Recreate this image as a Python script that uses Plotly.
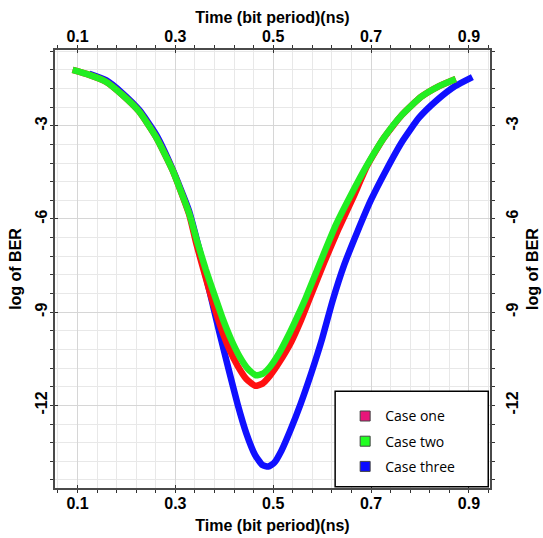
import plotly.graph_objects as go

# Bit-error-rate bathtub curves (log10 BER vs. sampling time in the bit period)
case_one_t = [0.090, 0.124, 0.158, 0.192, 0.226, 0.260, 0.294, 0.328, 0.343, 0.359,
              0.375, 0.392, 0.409, 0.427, 0.445, 0.463, 0.478, 0.493, 0.512, 0.537,
              0.557, 0.573, 0.604, 0.634, 0.663, 0.692, 0.726, 0.763, 0.802, 0.839, 0.873]
case_one_ber = [-1.20, -1.36, -1.58, -2.01, -2.54, -3.35, -4.42, -5.84, -6.80, -7.72,
                -8.60, -9.45, -10.15, -10.72, -11.15, -11.37, -11.30, -11.05, -10.62, -9.95,
                -9.25, -8.62, -7.40, -6.30, -5.32, -4.29, -3.39, -2.65, -2.07, -1.72, -1.49]

case_two_t = [0.090, 0.124, 0.158, 0.192, 0.226, 0.260, 0.294, 0.328, 0.345, 0.362,
              0.380, 0.397, 0.414, 0.431, 0.448, 0.464, 0.479, 0.494, 0.512, 0.532,
              0.550, 0.566, 0.598, 0.628, 0.659, 0.692, 0.726, 0.763, 0.802, 0.839, 0.873]
case_two_ber = [-1.20, -1.36, -1.58, -2.01, -2.54, -3.35, -4.42, -5.81, -6.75, -7.62,
                -8.45, -9.22, -9.88, -10.42, -10.82, -11.03, -10.98, -10.75, -10.32, -9.72,
                -9.12, -8.56, -7.32, -6.19, -5.22, -4.26, -3.39, -2.65, -2.07, -1.72, -1.49]

case_three_t = [0.124, 0.159, 0.191, 0.226, 0.261, 0.293, 0.328, 0.350, 0.371, 0.390,
                0.409, 0.427, 0.445, 0.463, 0.478, 0.490, 0.502, 0.517, 0.535, 0.556,
                0.578, 0.600, 0.621, 0.645, 0.672, 0.700, 0.731, 0.763, 0.798, 0.835, 0.872, 0.907]
case_three_ber = [-1.33, -1.54, -1.94, -2.49, -3.29, -4.35, -5.74, -7.05, -8.40, -9.65,
                  -10.85, -11.95, -12.90, -13.60, -13.92, -13.97, -13.85, -13.45, -12.80, -11.95,
                  -10.95, -9.85, -8.65, -7.48, -6.41, -5.38, -4.42, -3.52, -2.74, -2.17, -1.72, -1.43]

series_names = ["Case one", "Case two", "Case three"]
line_colors = ["#ff1010", "#22ee22", "#1010ff"]
legend_colors = ["#e8157a", "#22ff22", "#0a0aff"]

x_ticks = [0.1, 0.3, 0.5, 0.7, 0.9]
y_ticks = [-3, -6, -9, -12]

fig = go.Figure()

# drawing order: blue underneath, then red, green on top
curves = [(case_three_t, case_three_ber, 2), (case_one_t, case_one_ber, 0),
          (case_two_t, case_two_ber, 1)]
for t, ber, i in curves:
    fig.add_trace(go.Scatter(x=t, y=ber, mode="lines",
                             line=dict(color=line_colors[i], width=6.5, shape="spline", smoothing=0.5),
                             showlegend=False, hoverinfo="skip"))

# legend entries with square swatches; the first two also bring in the top and right axes
legend_axes = [dict(xaxis="x2", yaxis="y"), dict(xaxis="x", yaxis="y2"), dict(xaxis="x", yaxis="y")]
for i, name in enumerate(series_names):
    fig.add_trace(go.Scatter(x=[None], y=[None], mode="markers", name=name,
                             legendgroup=name, hoverinfo="skip",
                             marker=dict(symbol="square", size=10, color=legend_colors[i],
                                         line=dict(color="#444", width=1)),
                             **legend_axes[i]))

tick_font = dict(family="Liberation Sans", size=16, color="black", weight="bold")
title_font = dict(family="Liberation Sans", size=16, color="black", weight="bold")

x_common = dict(range=[0.054, 0.943], tickvals=x_ticks, ticktext=[str(v) for v in x_ticks],
                zeroline=False, showline=True, linecolor="#4a4a4a", linewidth=2, automargin=False,
                ticks="inside", ticklen=3, tickcolor="#333", tickfont=tick_font)
y_common = dict(range=[-14.66, -0.56], tickvals=y_ticks, ticktext=[str(v) for v in y_ticks],
                tickangle=-90, zeroline=False, showline=True, linecolor="#4a4a4a", linewidth=2,
                automargin=False, tickcolor="#333", tickfont=tick_font)

x_grid = dict(showgrid=True, gridcolor="#d6d6d6", gridwidth=1,
              minor=dict(dtick=0.04, tick0=0.1, showgrid=True, gridcolor="#e8e8e8",
                         ticks="outside", ticklen=3, tickcolor="#333"))
y_grid = dict(showgrid=True, gridcolor="#d6d6d6", gridwidth=1,
              minor=dict(dtick=0.6, tick0=-3, showgrid=True, gridcolor="#e8e8e8",
                         ticks="outside", ticklen=3, tickcolor="#333"))
x_top_ticks = dict(showgrid=False, minor=dict(dtick=0.04, tick0=0.1, showgrid=False,
                                              ticks="outside", ticklen=3, tickcolor="#333"))
y_right_ticks = dict(showgrid=False, minor=dict(dtick=0.6, tick0=-3, showgrid=False,
                                                ticks="outside", ticklen=3, tickcolor="#333"))

fig.update_layout(
    width=543, height=538,
    margin=dict(l=55, r=53, t=50, b=50, autoexpand=False),
    paper_bgcolor="white", plot_bgcolor="white",
    xaxis=dict(**x_common, **x_grid, side="bottom",
               title=dict(text="Time (bit period)(ns)", font=title_font, standoff=9)),
    xaxis2=dict(**x_common, **x_top_ticks, side="top", overlaying="x", matches="x", anchor="y",
                title=dict(text="Time (bit period)(ns)", font=title_font, standoff=0)),
    yaxis=dict(**y_common, **y_grid, side="left", ticks="inside", ticklen=3,
               title=dict(text="log of BER", font=title_font, standoff=7)),
    yaxis2=dict(**y_common, **y_right_ticks, side="right", overlaying="y", matches="y", anchor="x",
                ticks="outside", ticklen=3, ticklabelstandoff=4,
                title=dict(text="log of BER", font=title_font, standoff=7)),
    legend=dict(x=0.667, y=0.200, xanchor="left", yanchor="top",
                bgcolor="rgba(0,0,0,0)", borderwidth=0, tracegroupgap=4,
                font=dict(family="Open Sans", size=14, color="black")),
    shapes=[dict(type="rect", xref="paper", yref="paper", x0=0.644, x1=0.996,
                 y0=0.003, y1=0.221, line=dict(color="black", width=1.5),
                 fillcolor="white", layer="above")],
)

fig.write_html("out.html")
